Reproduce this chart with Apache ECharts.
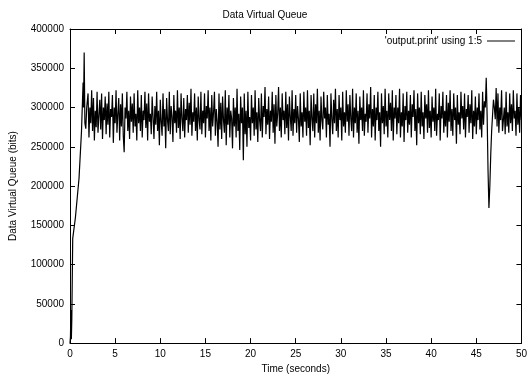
<!DOCTYPE html>
<html><head><meta charset="utf-8">
<script src="https://cdn.jsdelivr.net/npm/echarts@6/dist/echarts.min.js"></script>
<style>html,body{margin:0;padding:0;background:#fff}#c{width:530px;height:379px}</style>
</head><body><div id="c"></div>
<script>
// Start-up transient: [time (s), queue (bits)]
const startup = [[0,0],[0.05,8000],[0.1,42000],[0.15,5000],[0.2,30000],[0.3,133000],[0.6,160000],[1.0,210000],[1.27,269000],[1.45,332000],[1.5,300000],[1.57,370000],[1.65,280000],[1.75,273000],[1.85,300000]];
// Steady-state samples (thousands of bits), one every 0.1 s from t = 2.0 s
const steadyStart = 2.0;
const steadyStep = 0.1;
const steadyK = [
318,262,300,280,322,270,312,258,296,275,
320,268,290,310,272,318,260,300,284,314,
266,305,278,320,262,298,288,316,255,300,
280,322,268,292,312,258,304,276,318,264,
243,300,286,320,270,296,260,314,282,305,
268,318,276,292,258,322,280,300,270,316,
262,296,284,320,274,305,258,318,282,292,
266,314,288,260,302,278,320,270,296,252,
310,282,264,318,276,298,248,312,284,270,
320,266,302,288,256,316,280,296,268,322,
274,300,260,318,286,270,312,262,298,284,
316,268,306,278,324,264,294,282,318,270,
300,258,314,284,272,320,266,296,280,318,
262,302,286,322,270,300,258,316,276,294,
320,264,298,282,250,318,272,306,260,314,
284,268,322,252,300,278,316,262,296,286,
248,312,276,300,262,324,270,292,246,314,
280,300,233,318,266,296,250,320,274,288,
258,316,280,300,264,322,272,294,256,312,
284,270,318,262,302,288,326,266,298,278,
314,260,296,282,320,268,304,254,316,276,
292,326,270,300,262,318,284,296,266,320,
274,304,258,314,288,270,322,264,298,280,
316,268,302,286,256,318,276,294,262,320,
282,300,264,322,274,296,252,316,286,270,
318,262,304,280,324,268,296,258,314,284,
272,320,286,300,262,316,278,292,250,318,
286,266,310,280,324,270,298,262,316,284,
300,258,320,276,294,268,322,282,304,264,
316,286,270,324,262,300,280,318,268,296,
254,314,284,300,270,322,264,292,282,318,
268,304,286,326,262,298,276,316,258,300,
284,320,270,294,250,318,280,302,266,324,
276,296,262,318,284,306,270,322,258,300,
286,316,266,300,280,324,262,294,276,318,
256,302,284,320,268,296,278,316,262,304,
288,322,270,298,252,318,280,300,266,320,
276,294,260,316,286,304,268,322,274,296,
262,314,282,300,270,324,264,292,284,318,
258,302,286,320,268,296,276,316,262,306,
282,322,270,298,264,318,284,300,254,316,
278,294,266,320,286,302,272,318,262,298,
288,316,268,304,280,322,260,296,276,314,
266,300,284,318,272,296,262,320,278,308,
300,338,290,220,172,200,240,270,290,310,
300,285,325,276,318,268,300,284,322,270,
284,300,266,320,276,294,268,318,280,304,
270,322,286,296,264,318,278,300,268,316,
284
];
const xTicks = [0,5,10,15,20,25,30,35,40,45,50];
const yTicks = [0,50000,100000,150000,200000,250000,300000,350000,400000];

const data = startup.slice();
steadyK.forEach((v,i)=>{ data.push([+(steadyStart + i*steadyStep).toFixed(2), v*1000]); });

const font = 'Liberation Sans, Arial, Helvetica, sans-serif';
const chart = echarts.init(document.getElementById('c'), null, {renderer:'canvas'});
const lineCol = '#000';
const tick = {show:true, inside:true, length:5, lineStyle:{color:lineCol,width:1}};
const plain = v => String(v);
chart.setOption({
  animation:false,
  backgroundColor:'#fff',
  title:{text:'Data Virtual Queue', left:'center', top:5, textStyle:{fontFamily:font,fontSize:10,fontWeight:'normal',color:'#000'}},
  legend:{show:true, right:10, top:31, align:'right', itemWidth:28, itemHeight:1, itemGap:4,
    textStyle:{fontFamily:font,fontSize:10,color:'#000'},
    data:[{name:"'output.print' using 1:5", icon:'rect'}]},
  grid:{left:69, right:3, top:29, bottom:33, containLabel:false},
  xAxis:[{type:'value', min:0, max:50, interval:5, position:'bottom',
    name:'Time (seconds)', nameLocation:'middle', nameGap:20,
    nameTextStyle:{fontFamily:font,fontSize:10,color:'#000'},
    axisLine:{show:true,onZero:false,lineStyle:{color:lineCol,width:1}}, axisTick:tick,
    axisLabel:{fontFamily:font,fontSize:10,color:'#000',margin:6,formatter:plain}, splitLine:{show:false}},
   {type:'value', min:0, max:50, interval:5, position:'top',
    axisLine:{show:true,onZero:false,lineStyle:{color:lineCol,width:1}}, axisTick:tick,
    axisLabel:{show:false}, splitLine:{show:false}}],
  yAxis:[{type:'value', min:0, max:400000, interval:50000, position:'left',
    name:'Data Virtual Queue (bits)', nameLocation:'middle', nameGap:52, nameRotate:90,
    nameTextStyle:{fontFamily:font,fontSize:10,color:'#000'},
    axisLine:{show:true,onZero:false,lineStyle:{color:lineCol,width:1}}, axisTick:tick,
    axisLabel:{fontFamily:font,fontSize:10,color:'#000',margin:6,formatter:plain}, splitLine:{show:false}},
   {type:'value', min:0, max:400000, interval:50000, position:'right',
    axisLine:{show:true,onZero:false,lineStyle:{color:lineCol,width:1}}, axisTick:tick,
    axisLabel:{show:false}, splitLine:{show:false}}],
  series:[{name:"'output.print' using 1:5", type:'line', data:data, showSymbol:false, symbol:'none',
    lineStyle:{color:'#000',width:1.2}, itemStyle:{color:'#000'}, clip:true}]
});
</script></body></html>
